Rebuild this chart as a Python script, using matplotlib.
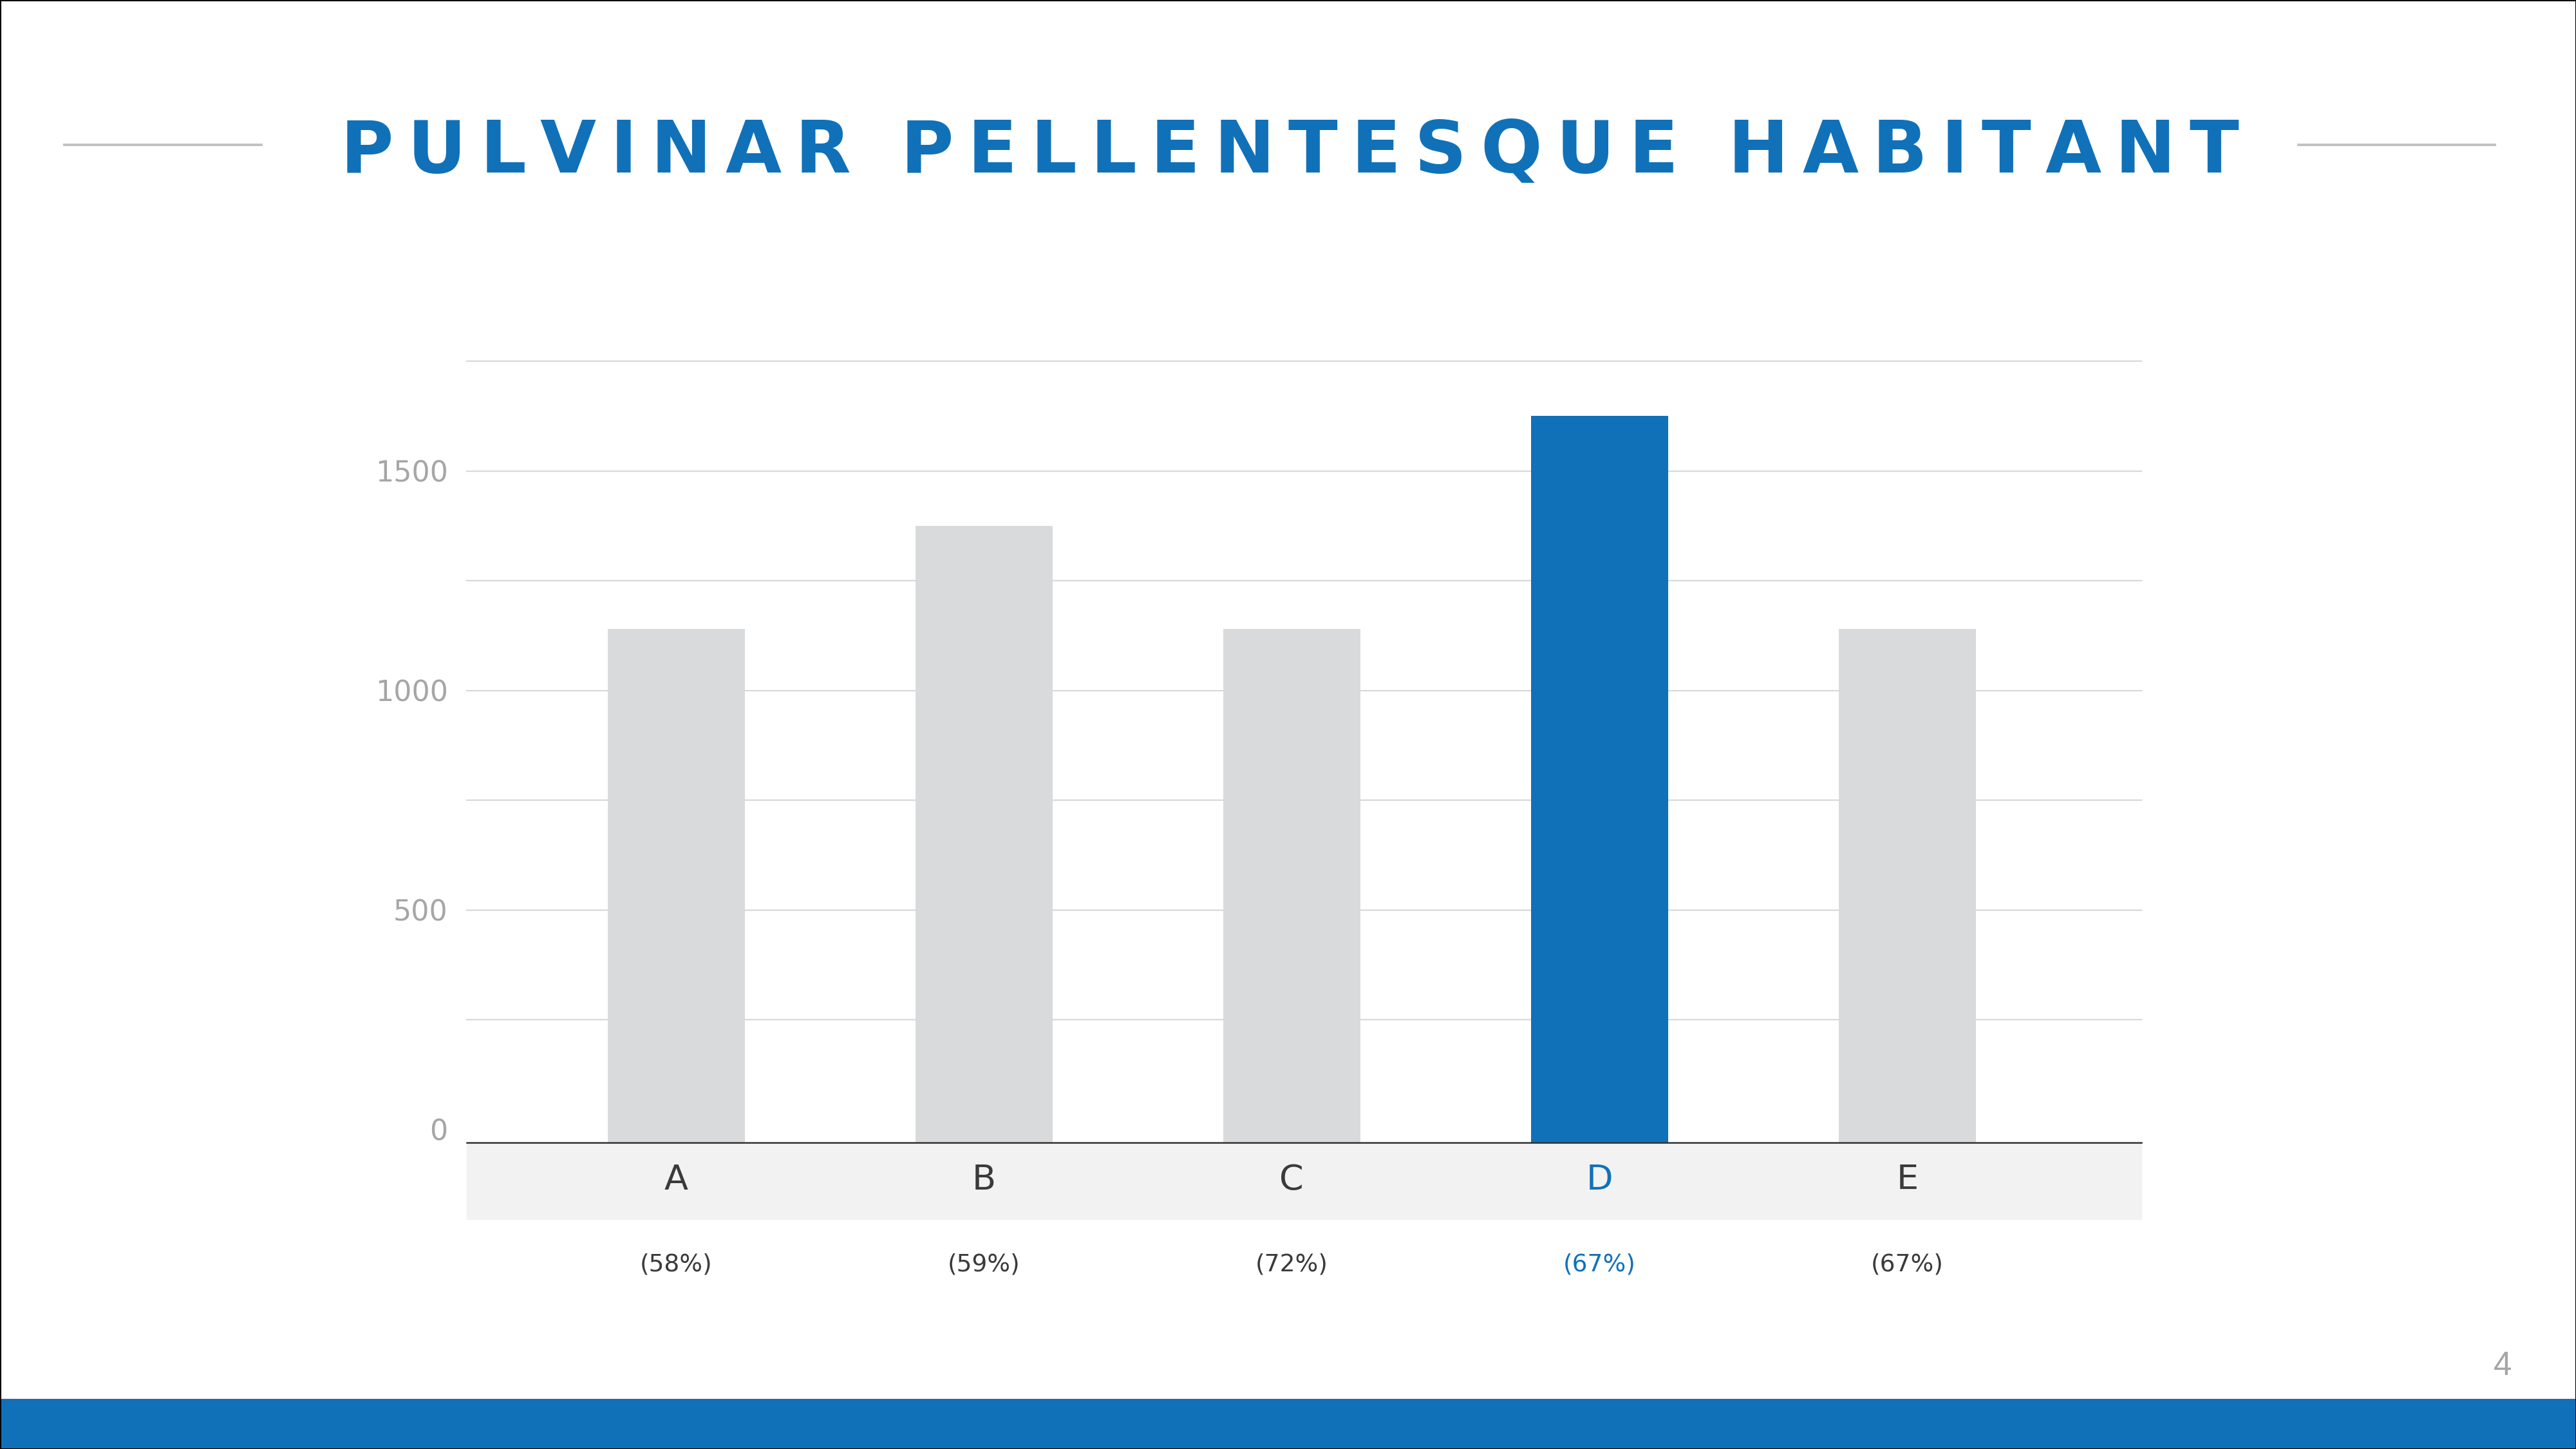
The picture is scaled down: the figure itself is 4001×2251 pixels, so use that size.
import matplotlib
matplotlib.use("Agg")
import matplotlib.pyplot as plt
import matplotlib.transforms as mtransforms
from matplotlib.patches import Rectangle
from matplotlib.lines import Line2D
import numpy as np

# data #
categories = ["A", "B", "C", "D", "E"]
values = [1140, 1375, 1140, 1625, 1140]
shares = ["(58%)", "(59%)", "(72%)", "(67%)", "(67%)"]
highlight = "D"

y_ticks = [0, 500, 1000, 1500]
grid_levels = [250, 500, 750, 1000, 1250, 1500, 1750]
y_floor = -30  # category axis sits a little below zero on the original

title = "PULVINAR PELLENTESQUE HABITANT"
page_no = "4"

BLUE = "#1071b9"
BAR_GREY = "#d9dadc"
GRID = "#d9d9d9"
LABEL_GREY = "#a6a6a6"
DARK = "#3a3a3a"

W, H, DPI = 4001, 2251, 100
fig = plt.figure(figsize=(W / DPI, H / DPI), dpi=DPI)
fig.patch.set_facecolor("white")


def fx(px):
    return px / W


def fy(py):
    return 1 - py / H


# grey band behind category names (behind the axes) #
fig.patches.append(Rectangle((fx(725), fy(1894)), fx(3326) - fx(725),
                             (1894 - 1775) / H, transform=fig.transFigure,
                             color="#f2f2f2", zorder=-1))

# main axes #
ax = fig.add_axes([fx(725), fy(1775), fx(3326) - fx(725), fy(561) - fy(1775)])
ax.patch.set_visible(False)
x = np.arange(len(categories))
colors = [BLUE if c == highlight else BAR_GREY for c in categories]
ax.bar(x, np.array(values) - y_floor, bottom=y_floor, width=0.446,
       color=colors, zorder=3)

for lvl in grid_levels:
    ax.axhline(lvl, color=GRID, lw=1.6, zorder=1, clip_on=False)

ax.set_xlim(-0.68, len(categories) - 1 + 0.76)
ax.set_ylim(y_floor, 1750)
ax.set_yticks(y_ticks)
ax.set_yticklabels([str(t) for t in y_ticks])
ax.set_xticks([])
ax.tick_params(axis="y", length=0, pad=21, labelsize=32, labelcolor=LABEL_GREY)
for side in ["top", "right", "left"]:
    ax.spines[side].set_visible(False)
ax.spines["bottom"].set_color("#333333")
ax.spines["bottom"].set_linewidth(1.8)
ax.spines["bottom"].set_zorder(5)

trans = mtransforms.blended_transform_factory(ax.transData, fig.transFigure)
for i, (cat, share) in enumerate(zip(categories, shares)):
    col = BLUE if cat == highlight else DARK
    ax.text(i, fy(1833), cat, transform=trans, ha="center", va="center",
            fontsize=39, color=col, clip_on=False)
    ax.text(i, fy(1964), share, transform=trans, ha="center", va="center",
            fontsize=27, color=col, clip_on=False)

# spaced-out title, one letter at a time #
renderer = fig.canvas.get_renderer()
title_size = 81
widths = []
for ch in title:
    if ch == " ":
        widths.append(0.0)
        continue
    t = fig.text(0, 0, ch, fontsize=title_size, fontweight="bold")
    widths.append(t.get_window_extent(renderer).width)
    t.remove()

target_w = 3477 - 529
n_letters = sum(1 for ch in title if ch != " ")
n_spaces = title.count(" ")
word_gap = 2.6
track = (target_w - sum(widths)) / ((n_letters - 1) + n_spaces * word_gap)

cursor = 529.0
for ch, w in zip(title, widths):
    if ch == " ":
        cursor += word_gap * track
        continue
    fig.text(fx(cursor), fy(268), ch, fontsize=title_size, fontweight="bold",
             color=BLUE, ha="left", va="baseline")
    cursor += w + track

# thin rules either side of the title #
fig.add_artist(Line2D([fx(100), fx(406)], [fy(225), fy(225)], color="#c0c0c0", lw=2.8))
fig.add_artist(Line2D([fx(3570), fx(3875)], [fy(225), fy(225)], color="#c0c0c0", lw=2.8))

# footer #
fig.patches.append(Rectangle((0, 0), 1, (H - 2174) / H, transform=fig.transFigure,
                             color=BLUE, zorder=0))
fig.add_artist(Line2D([0, 1], [fy(2174), fy(2174)], color="#2b5a97", lw=1.2))
fig.text(fx(3887), fy(2123), page_no, fontsize=37, color=LABEL_GREY,
         family="Liberation Sans", ha="center", va="center")

# slide frame #
fig.patches.append(Rectangle((0, 0), 1, 1, transform=fig.transFigure,
                             fill=False, edgecolor="black", lw=2.2, zorder=10))

fig.savefig("out.png", dpi=DPI)
